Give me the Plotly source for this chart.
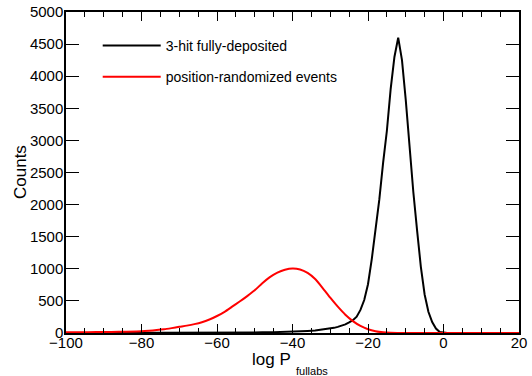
import numpy as np
import plotly.graph_objects as go

# ---- data (histogram bin centres / counts) ----
black_x = [-100, -80, -70, -65, -60, -56, -52, -48, -45, -42, -40, -38, -36, -34, -32, -30, -29, -28, -27, -26,
           -25, -24, -23, -22, -21, -20, -19, -18, -17, -16, -15, -14, -13, -12, -11, -10, -9, -8, -7, -6,
           -5, -4, -3, -2, -1, 0, 1, 20]
black_y = [0, 0, 1, 2, 3, 5, 7, 10, 13, 17, 21, 27, 33, 40, 52, 70, 80, 95, 112, 135,
           165, 200, 254, 360, 514, 760, 1150, 1600, 2080, 2650, 3150, 3800, 4300, 4600, 4250, 3630, 2900, 2200, 1600, 1030,
           600, 330, 170, 70, 15, 2, 0, 0]

red_x = [-100, -96, -92, -88, -84, -80, -78, -76, -74, -72, -70, -68, -66, -64, -62, -60, -58, -56, -54, -52,
         -50, -48, -46, -44, -42, -40, -38, -36, -34, -32, -30, -28, -26, -24, -22, -20, -18, -16, -14, -12,
         -10, 0, 10, 20]
red_y = [10, 12, 14, 17, 21, 27, 35, 45, 58, 76, 96, 115, 138, 168, 210, 265, 330, 410, 490, 575,
         665, 775, 870, 940, 985, 1005, 990, 935, 840, 700, 550, 410, 285, 185, 110, 58, 27, 10, 3, 1,
         0, 0, 0, 0]

series_names = ["3-hit fully-deposited", "position-randomized events"]
x_ticks = [-100, -80, -60, -40, -20, 0, 20]
y_ticks = list(range(0, 5001, 500))

FONT = "Liberation Sans, Arial, Helvetica, sans-serif"

fig = go.Figure()
fig.add_trace(go.Scatter(x=black_x, y=black_y, mode="lines", name=series_names[0],
                         line=dict(color="black", width=2), legendgroup="a"))
fig.add_trace(go.Scatter(x=red_x, y=red_y, mode="lines", name=series_names[1],
                         line=dict(color="#ff0000", width=2, shape="spline", smoothing=0.6),
                         legendgroup="b"))

fig.update_layout(
    width=532, height=376,
    margin=dict(l=66, r=13, t=12, b=43),
    paper_bgcolor="white", plot_bgcolor="white",
    font=dict(family=FONT, color="black", size=15),
    showlegend=True,
    legend=dict(x=0.07, y=0.944, xanchor="left", yanchor="top",
                bgcolor="rgba(0,0,0,0)", font=dict(size=14, family=FONT),
                tracegroupgap=10, traceorder="grouped", itemwidth=58),
    xaxis=dict(range=[-100, 20], tickvals=x_ticks, ticks="inside", ticklen=9, tickwidth=1,
               tickcolor="black", showline=True, linecolor="black", linewidth=1.5, mirror="ticks",
               showgrid=False, zeroline=False, tickfont=dict(size=15), automargin=False,
               ticklabelstandoff=-5,
               minor=dict(dtick=5, tick0=0, ticks="inside", ticklen=5, tickcolor="black", showgrid=False)),
    yaxis=dict(range=[0, 5000], tickvals=y_ticks, ticks="inside", ticklen=13, tickwidth=1,
               tickcolor="black", showline=True, linecolor="black", linewidth=1.5, mirror="ticks",
               showgrid=False, zeroline=False, tickfont=dict(size=15), automargin=False,
               ticklabelstandoff=-2),
)

fig.add_annotation(text="Counts", xref="paper", yref="paper", x=-(66 - 20) / 453, y=(333 - 172) / 321,
                   xanchor="center", yanchor="middle", textangle=-90, showarrow=False,
                   font=dict(size=17, family=FONT))
fig.add_annotation(text="log P", xref="paper", yref="paper", x=(271 - 66) / 453, y=-(360 - 333) / 321,
                   xanchor="center", yanchor="middle", showarrow=False, font=dict(size=17, family=FONT))
fig.add_annotation(text="fullabs", xref="paper", yref="paper", x=(294 - 66) / 453, y=-(371 - 333) / 321,
                   xanchor="left", yanchor="middle", showarrow=False, font=dict(size=11, family=FONT))

fig.write_html("out.html")
